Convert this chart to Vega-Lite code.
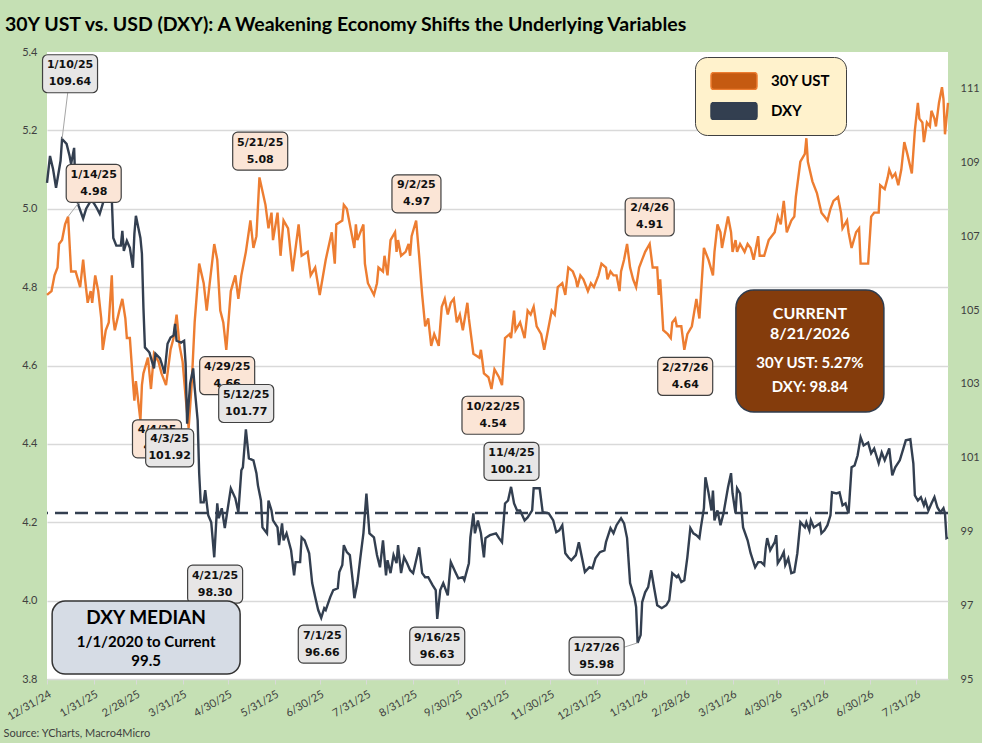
{
  "$schema": "https://vega.github.io/schema/vega-lite/v6.json",
  "autosize": "none",
  "width": 901,
  "height": 627,
  "padding": {"left": 47, "top": 52, "right": 34, "bottom": 64},
  "background": "#C5E0B4",
  "title": {
    "text": "30Y UST vs. USD (DXY): A Weakening Economy Shifts the Underlying Variables",
    "anchor": "start", "frame": "group", "dx": -42, "offset": -4, "baseline": "alphabetic",
    "font": "Lato", "fontSize": 19.5, "fontWeight": "bold", "color": "#000000"
  },
  "config": {
    "view": {"stroke": null, "fill": "white"},
    "font": "Lato",
    "axis": {"labelFont": "Lato", "labelFontSize": 11, "labelColor": "#404040"}
  },
  "datasets": {
    "ust": [
      {"date":"2024-12-31","ust":4.78},{"date":"2025-01-03","ust":4.79},{"date":"2025-01-05","ust":4.83},{"date":"2025-01-07","ust":4.85},
      {"date":"2025-01-08","ust":4.91},{"date":"2025-01-10","ust":4.92},{"date":"2025-01-12","ust":4.96},{"date":"2025-01-13","ust":4.97},
      {"date":"2025-01-14","ust":4.98},{"date":"2025-01-16","ust":4.84},{"date":"2025-01-19","ust":4.84},{"date":"2025-01-22","ust":4.80},
      {"date":"2025-01-24","ust":4.87},{"date":"2025-01-25","ust":4.83},{"date":"2025-01-27","ust":4.76},{"date":"2025-01-29","ust":4.79},
      {"date":"2025-01-30","ust":4.76},{"date":"2025-02-01","ust":4.83},{"date":"2025-02-03","ust":4.79},{"date":"2025-02-05","ust":4.72},
      {"date":"2025-02-06","ust":4.64},{"date":"2025-02-08","ust":4.69},{"date":"2025-02-10","ust":4.71},{"date":"2025-02-12","ust":4.83},
      {"date":"2025-02-13","ust":4.72},{"date":"2025-02-14","ust":4.69},{"date":"2025-02-17","ust":4.74},{"date":"2025-02-19","ust":4.77},
      {"date":"2025-02-21","ust":4.72},{"date":"2025-02-22","ust":4.67},{"date":"2025-02-24","ust":4.67},{"date":"2025-02-26","ust":4.56},
      {"date":"2025-02-27","ust":4.51},{"date":"2025-02-28","ust":4.56},{"date":"2025-03-03","ust":4.46},{"date":"2025-03-04","ust":4.55},
      {"date":"2025-03-05","ust":4.58},{"date":"2025-03-08","ust":4.62},{"date":"2025-03-10","ust":4.54},{"date":"2025-03-12","ust":4.63},
      {"date":"2025-03-15","ust":4.61},{"date":"2025-03-17","ust":4.58},{"date":"2025-03-20","ust":4.55},{"date":"2025-03-23","ust":4.64},
      {"date":"2025-03-25","ust":4.67},{"date":"2025-03-27","ust":4.73},{"date":"2025-03-29","ust":4.65},{"date":"2025-03-31","ust":4.61},
      {"date":"2025-04-02","ust":4.52},{"date":"2025-04-04","ust":4.44},{"date":"2025-04-06","ust":4.55},{"date":"2025-04-08","ust":4.71},
      {"date":"2025-04-11","ust":4.86},{"date":"2025-04-14","ust":4.81},{"date":"2025-04-16","ust":4.74},{"date":"2025-04-18","ust":4.81},
      {"date":"2025-04-21","ust":4.91},{"date":"2025-04-23","ust":4.87},{"date":"2025-04-25","ust":4.74},{"date":"2025-04-27","ust":4.71},
      {"date":"2025-04-29","ust":4.64},{"date":"2025-05-02","ust":4.79},{"date":"2025-05-05","ust":4.83},{"date":"2025-05-07","ust":4.77},
      {"date":"2025-05-09","ust":4.83},{"date":"2025-05-12","ust":4.89},{"date":"2025-05-15","ust":4.97},{"date":"2025-05-17","ust":4.90},
      {"date":"2025-05-19","ust":4.93},{"date":"2025-05-21","ust":5.08},{"date":"2025-05-25","ust":5.01},{"date":"2025-05-27","ust":4.95},
      {"date":"2025-05-29","ust":4.99},{"date":"2025-05-30","ust":4.92},{"date":"2025-06-02","ust":4.99},{"date":"2025-06-04","ust":4.88},
      {"date":"2025-06-06","ust":4.97},{"date":"2025-06-09","ust":4.95},{"date":"2025-06-12","ust":4.84},{"date":"2025-06-16","ust":4.96},
      {"date":"2025-06-18","ust":4.88},{"date":"2025-06-22","ust":4.89},{"date":"2025-06-24","ust":4.83},{"date":"2025-06-27","ust":4.85},
      {"date":"2025-06-30","ust":4.78},{"date":"2025-07-04","ust":4.87},{"date":"2025-07-08","ust":4.94},{"date":"2025-07-10","ust":4.86},
      {"date":"2025-07-11","ust":4.96},{"date":"2025-07-15","ust":4.97},{"date":"2025-07-16","ust":5.01},{"date":"2025-07-18","ust":5.00},
      {"date":"2025-07-20","ust":4.96},{"date":"2025-07-23","ust":4.90},{"date":"2025-07-24","ust":4.96},{"date":"2025-07-25","ust":4.92},
      {"date":"2025-07-29","ust":4.96},{"date":"2025-07-30","ust":4.86},{"date":"2025-08-01","ust":4.81},{"date":"2025-08-05","ust":4.78},
      {"date":"2025-08-07","ust":4.81},{"date":"2025-08-08","ust":4.85},{"date":"2025-08-11","ust":4.84},{"date":"2025-08-12","ust":4.88},
      {"date":"2025-08-14","ust":4.83},{"date":"2025-08-16","ust":4.92},{"date":"2025-08-19","ust":4.94},{"date":"2025-08-20","ust":4.89},
      {"date":"2025-08-21","ust":4.92},{"date":"2025-08-23","ust":4.88},{"date":"2025-08-26","ust":4.89},{"date":"2025-08-28","ust":4.91},
      {"date":"2025-08-29","ust":4.88},{"date":"2025-08-30","ust":4.93},{"date":"2025-09-02","ust":4.97},{"date":"2025-09-04","ust":4.88},
      {"date":"2025-09-06","ust":4.78},{"date":"2025-09-08","ust":4.70},{"date":"2025-09-10","ust":4.72},{"date":"2025-09-12","ust":4.65},
      {"date":"2025-09-14","ust":4.68},{"date":"2025-09-17","ust":4.65},{"date":"2025-09-19","ust":4.75},{"date":"2025-09-21","ust":4.77},
      {"date":"2025-09-23","ust":4.73},{"date":"2025-09-25","ust":4.76},{"date":"2025-09-27","ust":4.77},{"date":"2025-09-29","ust":4.71},
      {"date":"2025-10-01","ust":4.73},{"date":"2025-10-03","ust":4.69},{"date":"2025-10-06","ust":4.76},{"date":"2025-10-07","ust":4.72},
      {"date":"2025-10-10","ust":4.63},{"date":"2025-10-14","ust":4.62},{"date":"2025-10-15","ust":4.64},{"date":"2025-10-17","ust":4.58},
      {"date":"2025-10-20","ust":4.57},{"date":"2025-10-22","ust":4.54},{"date":"2025-10-24","ust":4.59},{"date":"2025-10-27","ust":4.57},
      {"date":"2025-10-29","ust":4.55},{"date":"2025-10-31","ust":4.67},{"date":"2025-11-03","ust":4.68},{"date":"2025-11-04","ust":4.67},
      {"date":"2025-11-06","ust":4.74},{"date":"2025-11-07","ust":4.69},{"date":"2025-11-10","ust":4.71},{"date":"2025-11-13","ust":4.67},
      {"date":"2025-11-15","ust":4.74},{"date":"2025-11-17","ust":4.73},{"date":"2025-11-19","ust":4.75},{"date":"2025-11-21","ust":4.70},
      {"date":"2025-11-24","ust":4.68},{"date":"2025-11-26","ust":4.64},{"date":"2025-11-28","ust":4.68},{"date":"2025-12-01","ust":4.74},
      {"date":"2025-12-03","ust":4.73},{"date":"2025-12-05","ust":4.80},{"date":"2025-12-08","ust":4.81},{"date":"2025-12-10","ust":4.78},
      {"date":"2025-12-12","ust":4.85},{"date":"2025-12-15","ust":4.84},{"date":"2025-12-17","ust":4.82},{"date":"2025-12-18","ust":4.80},
      {"date":"2025-12-20","ust":4.83},{"date":"2025-12-22","ust":4.82},{"date":"2025-12-25","ust":4.79},{"date":"2025-12-27","ust":4.81},
      {"date":"2025-12-29","ust":4.80},{"date":"2026-01-01","ust":4.83},{"date":"2026-01-03","ust":4.86},{"date":"2026-01-06","ust":4.85},
      {"date":"2026-01-07","ust":4.82},{"date":"2026-01-09","ust":4.84},{"date":"2026-01-11","ust":4.83},{"date":"2026-01-13","ust":4.83},
      {"date":"2026-01-15","ust":4.79},{"date":"2026-01-16","ust":4.84},{"date":"2026-01-18","ust":4.87},{"date":"2026-01-20","ust":4.91},
      {"date":"2026-01-22","ust":4.85},{"date":"2026-01-24","ust":4.82},{"date":"2026-01-26","ust":4.80},{"date":"2026-01-28","ust":4.85},
      {"date":"2026-01-30","ust":4.87},{"date":"2026-02-01","ust":4.89},{"date":"2026-02-04","ust":4.91},{"date":"2026-02-06","ust":4.85},
      {"date":"2026-02-09","ust":4.85},{"date":"2026-02-10","ust":4.78},{"date":"2026-02-11","ust":4.82},{"date":"2026-02-13","ust":4.69},
      {"date":"2026-02-16","ust":4.68},{"date":"2026-02-18","ust":4.67},{"date":"2026-02-19","ust":4.71},{"date":"2026-02-21","ust":4.72},
      {"date":"2026-02-22","ust":4.70},{"date":"2026-02-25","ust":4.70},{"date":"2026-02-27","ust":4.64},{"date":"2026-03-01","ust":4.68},
      {"date":"2026-03-04","ust":4.70},{"date":"2026-03-07","ust":4.77},{"date":"2026-03-09","ust":4.72},{"date":"2026-03-12","ust":4.90},
      {"date":"2026-03-15","ust":4.87},{"date":"2026-03-18","ust":4.83},{"date":"2026-03-19","ust":4.89},{"date":"2026-03-21","ust":4.96},
      {"date":"2026-03-23","ust":4.94},{"date":"2026-03-24","ust":4.90},{"date":"2026-03-28","ust":4.98},{"date":"2026-03-30","ust":4.94},
      {"date":"2026-03-31","ust":4.89},{"date":"2026-04-02","ust":4.92},{"date":"2026-04-03","ust":4.89},{"date":"2026-04-05","ust":4.91},
      {"date":"2026-04-08","ust":4.89},{"date":"2026-04-10","ust":4.91},{"date":"2026-04-12","ust":4.90},{"date":"2026-04-14","ust":4.87},
      {"date":"2026-04-17","ust":4.93},{"date":"2026-04-18","ust":4.88},{"date":"2026-04-21","ust":4.88},{"date":"2026-04-24","ust":4.92},
      {"date":"2026-04-28","ust":4.94},{"date":"2026-04-30","ust":4.98},{"date":"2026-05-02","ust":4.96},{"date":"2026-05-04","ust":5.02},
      {"date":"2026-05-06","ust":4.94},{"date":"2026-05-09","ust":4.97},{"date":"2026-05-11","ust":4.98},{"date":"2026-05-12","ust":5.03},
      {"date":"2026-05-15","ust":5.12},{"date":"2026-05-18","ust":5.14},{"date":"2026-05-19","ust":5.18},{"date":"2026-05-20","ust":5.12},
      {"date":"2026-05-23","ust":5.07},{"date":"2026-05-26","ust":5.04},{"date":"2026-05-29","ust":4.99},{"date":"2026-05-31","ust":4.98},
      {"date":"2026-06-02","ust":4.97},{"date":"2026-06-04","ust":5.00},{"date":"2026-06-06","ust":5.02},{"date":"2026-06-09","ust":5.03},
      {"date":"2026-06-11","ust":4.99},{"date":"2026-06-12","ust":4.95},{"date":"2026-06-15","ust":4.97},{"date":"2026-06-16","ust":4.94},
      {"date":"2026-06-18","ust":4.90},{"date":"2026-06-21","ust":4.94},{"date":"2026-06-23","ust":4.95},{"date":"2026-06-24","ust":4.86},
      {"date":"2026-06-26","ust":4.86},{"date":"2026-06-29","ust":4.86},{"date":"2026-07-01","ust":4.98},{"date":"2026-07-03","ust":4.99},
      {"date":"2026-07-06","ust":4.99},{"date":"2026-07-07","ust":5.06},{"date":"2026-07-10","ust":5.05},{"date":"2026-07-12","ust":5.08},
      {"date":"2026-07-13","ust":5.10},{"date":"2026-07-15","ust":5.08},{"date":"2026-07-17","ust":5.09},{"date":"2026-07-19","ust":5.06},
      {"date":"2026-07-21","ust":5.10},{"date":"2026-07-23","ust":5.17},{"date":"2026-07-25","ust":5.14},{"date":"2026-07-28","ust":5.09},
      {"date":"2026-07-30","ust":5.20},{"date":"2026-08-01","ust":5.27},{"date":"2026-08-02","ust":5.23},{"date":"2026-08-04","ust":5.22},
      {"date":"2026-08-05","ust":5.17},{"date":"2026-08-07","ust":5.22},{"date":"2026-08-09","ust":5.21},{"date":"2026-08-10","ust":5.25},
      {"date":"2026-08-12","ust":5.23},{"date":"2026-08-13","ust":5.21},{"date":"2026-08-15","ust":5.27},{"date":"2026-08-17","ust":5.31},
      {"date":"2026-08-18","ust":5.28},{"date":"2026-08-19","ust":5.19},{"date":"2026-08-21","ust":5.27}
    ],
    "dxy": [
      {"date":"2024-12-31","dxy":108.45},{"date":"2025-01-02","dxy":109.18},{"date":"2025-01-04","dxy":108.83},{"date":"2025-01-06","dxy":108.32},
      {"date":"2025-01-09","dxy":109.05},{"date":"2025-01-10","dxy":109.64},{"date":"2025-01-13","dxy":109.51},{"date":"2025-01-15","dxy":109.18},
      {"date":"2025-01-16","dxy":108.96},{"date":"2025-01-18","dxy":109.40},{"date":"2025-01-19","dxy":108.18},{"date":"2025-01-21","dxy":107.83},
      {"date":"2025-01-24","dxy":107.48},{"date":"2025-01-26","dxy":107.75},{"date":"2025-01-29","dxy":107.96},{"date":"2025-01-31","dxy":107.91},
      {"date":"2025-02-02","dxy":107.77},{"date":"2025-02-04","dxy":107.61},{"date":"2025-02-06","dxy":107.88},{"date":"2025-02-08","dxy":108.18},
      {"date":"2025-02-10","dxy":108.02},{"date":"2025-02-12","dxy":108.02},{"date":"2025-02-13","dxy":106.96},{"date":"2025-02-15","dxy":106.75},
      {"date":"2025-02-18","dxy":106.75},{"date":"2025-02-19","dxy":107.15},{"date":"2025-02-20","dxy":106.61},{"date":"2025-02-22","dxy":106.88},
      {"date":"2025-02-24","dxy":106.69},{"date":"2025-02-26","dxy":106.15},{"date":"2025-02-27","dxy":107.07},{"date":"2025-02-28","dxy":107.56},
      {"date":"2025-03-03","dxy":106.96},{"date":"2025-03-04","dxy":106.53},{"date":"2025-03-05","dxy":105.07},{"date":"2025-03-06","dxy":103.99},
      {"date":"2025-03-08","dxy":103.90},{"date":"2025-03-09","dxy":103.85},{"date":"2025-03-12","dxy":103.42},{"date":"2025-03-13","dxy":103.82},
      {"date":"2025-03-16","dxy":103.69},{"date":"2025-03-18","dxy":103.44},{"date":"2025-03-19","dxy":103.28},{"date":"2025-03-21","dxy":104.09},
      {"date":"2025-03-23","dxy":104.26},{"date":"2025-03-25","dxy":104.31},{"date":"2025-03-26","dxy":104.63},{"date":"2025-03-27","dxy":104.17},
      {"date":"2025-03-30","dxy":104.12},{"date":"2025-04-01","dxy":104.17},{"date":"2025-04-02","dxy":103.55},{"date":"2025-04-03","dxy":101.92},
      {"date":"2025-04-05","dxy":103.01},{"date":"2025-04-07","dxy":103.42},{"date":"2025-04-08","dxy":102.90},{"date":"2025-04-10","dxy":102.01},
      {"date":"2025-04-11","dxy":100.58},{"date":"2025-04-12","dxy":99.79},{"date":"2025-04-14","dxy":99.79},{"date":"2025-04-15","dxy":100.12},
      {"date":"2025-04-17","dxy":99.44},{"date":"2025-04-19","dxy":99.25},{"date":"2025-04-21","dxy":98.30},{"date":"2025-04-23","dxy":99.76},
      {"date":"2025-04-24","dxy":99.36},{"date":"2025-04-26","dxy":99.63},{"date":"2025-04-28","dxy":99.09},{"date":"2025-05-02","dxy":100.17},
      {"date":"2025-05-05","dxy":99.90},{"date":"2025-05-07","dxy":99.52},{"date":"2025-05-09","dxy":100.66},{"date":"2025-05-10","dxy":100.74},
      {"date":"2025-05-12","dxy":101.77},{"date":"2025-05-14","dxy":100.98},{"date":"2025-05-17","dxy":100.93},{"date":"2025-05-19","dxy":100.58},
      {"date":"2025-05-20","dxy":100.25},{"date":"2025-05-22","dxy":99.84},{"date":"2025-05-23","dxy":99.11},{"date":"2025-05-26","dxy":98.95},
      {"date":"2025-05-27","dxy":99.84},{"date":"2025-05-29","dxy":99.57},{"date":"2025-05-30","dxy":99.30},{"date":"2025-06-02","dxy":99.11},
      {"date":"2025-06-03","dxy":98.63},{"date":"2025-06-05","dxy":99.22},{"date":"2025-06-06","dxy":98.76},{"date":"2025-06-08","dxy":98.95},
      {"date":"2025-06-11","dxy":98.49},{"date":"2025-06-13","dxy":97.81},{"date":"2025-06-14","dxy":98.17},{"date":"2025-06-17","dxy":98.17},
      {"date":"2025-06-18","dxy":98.84},{"date":"2025-06-20","dxy":98.76},{"date":"2025-06-23","dxy":98.41},{"date":"2025-06-25","dxy":97.60},
      {"date":"2025-06-27","dxy":97.22},{"date":"2025-06-29","dxy":96.87},{"date":"2025-07-01","dxy":96.66},{"date":"2025-07-03","dxy":96.92},
      {"date":"2025-07-04","dxy":96.87},{"date":"2025-07-07","dxy":97.22},{"date":"2025-07-09","dxy":97.41},{"date":"2025-07-12","dxy":97.46},
      {"date":"2025-07-13","dxy":97.90},{"date":"2025-07-15","dxy":98.09},{"date":"2025-07-16","dxy":98.63},{"date":"2025-07-18","dxy":98.44},
      {"date":"2025-07-20","dxy":98.36},{"date":"2025-07-22","dxy":97.63},{"date":"2025-07-23","dxy":97.19},{"date":"2025-07-25","dxy":97.60},
      {"date":"2025-07-27","dxy":98.30},{"date":"2025-07-29","dxy":98.95},{"date":"2025-07-31","dxy":100.03},{"date":"2025-08-02","dxy":98.95},
      {"date":"2025-08-05","dxy":98.84},{"date":"2025-08-07","dxy":98.36},{"date":"2025-08-09","dxy":98.03},{"date":"2025-08-11","dxy":98.76},
      {"date":"2025-08-13","dxy":97.81},{"date":"2025-08-14","dxy":98.22},{"date":"2025-08-16","dxy":97.87},{"date":"2025-08-18","dxy":98.36},
      {"date":"2025-08-20","dxy":98.14},{"date":"2025-08-21","dxy":98.63},{"date":"2025-08-23","dxy":97.87},{"date":"2025-08-25","dxy":98.30},
      {"date":"2025-08-27","dxy":98.14},{"date":"2025-08-29","dxy":97.95},{"date":"2025-08-31","dxy":97.87},{"date":"2025-09-04","dxy":98.57},
      {"date":"2025-09-06","dxy":97.87},{"date":"2025-09-08","dxy":97.76},{"date":"2025-09-10","dxy":97.76},{"date":"2025-09-13","dxy":97.54},
      {"date":"2025-09-15","dxy":97.41},{"date":"2025-09-16","dxy":96.63},{"date":"2025-09-18","dxy":97.41},{"date":"2025-09-20","dxy":97.60},
      {"date":"2025-09-23","dxy":97.27},{"date":"2025-09-25","dxy":98.17},{"date":"2025-09-28","dxy":97.90},{"date":"2025-09-30","dxy":97.73},
      {"date":"2025-10-03","dxy":97.76},{"date":"2025-10-04","dxy":97.68},{"date":"2025-10-07","dxy":98.14},{"date":"2025-10-08","dxy":98.84},
      {"date":"2025-10-10","dxy":99.49},{"date":"2025-10-11","dxy":98.95},{"date":"2025-10-13","dxy":99.30},{"date":"2025-10-15","dxy":98.95},
      {"date":"2025-10-17","dxy":98.30},{"date":"2025-10-18","dxy":98.82},{"date":"2025-10-21","dxy":98.90},{"date":"2025-10-25","dxy":98.95},
      {"date":"2025-10-27","dxy":98.82},{"date":"2025-10-29","dxy":98.71},{"date":"2025-10-31","dxy":99.76},{"date":"2025-11-02","dxy":99.84},
      {"date":"2025-11-04","dxy":100.21},{"date":"2025-11-06","dxy":99.76},{"date":"2025-11-08","dxy":99.57},{"date":"2025-11-10","dxy":99.57},
      {"date":"2025-11-13","dxy":99.30},{"date":"2025-11-15","dxy":99.38},{"date":"2025-11-18","dxy":99.57},{"date":"2025-11-19","dxy":100.17},
      {"date":"2025-11-23","dxy":100.17},{"date":"2025-11-25","dxy":99.52},{"date":"2025-11-29","dxy":99.49},{"date":"2025-12-02","dxy":99.30},
      {"date":"2025-12-04","dxy":98.98},{"date":"2025-12-06","dxy":99.03},{"date":"2025-12-08","dxy":99.17},{"date":"2025-12-10","dxy":98.41},
      {"date":"2025-12-12","dxy":98.30},{"date":"2025-12-14","dxy":98.22},{"date":"2025-12-17","dxy":98.36},{"date":"2025-12-19","dxy":98.71},
      {"date":"2025-12-21","dxy":98.30},{"date":"2025-12-23","dxy":97.90},{"date":"2025-12-26","dxy":98.03},{"date":"2025-12-28","dxy":98.00},
      {"date":"2025-12-30","dxy":98.27},{"date":"2026-01-02","dxy":98.44},{"date":"2026-01-05","dxy":98.49},{"date":"2026-01-06","dxy":98.71},
      {"date":"2026-01-09","dxy":99.09},{"date":"2026-01-11","dxy":98.95},{"date":"2026-01-13","dxy":99.17},{"date":"2026-01-16","dxy":99.36},
      {"date":"2026-01-18","dxy":99.22},{"date":"2026-01-20","dxy":98.82},{"date":"2026-01-22","dxy":97.60},{"date":"2026-01-25","dxy":97.19},
      {"date":"2026-01-26","dxy":96.95},{"date":"2026-01-27","dxy":95.98},{"date":"2026-01-29","dxy":96.19},{"date":"2026-01-30","dxy":97.08},
      {"date":"2026-02-01","dxy":97.35},{"date":"2026-02-03","dxy":97.49},{"date":"2026-02-05","dxy":97.95},{"date":"2026-02-07","dxy":97.46},
      {"date":"2026-02-09","dxy":97.00},{"date":"2026-02-12","dxy":96.92},{"date":"2026-02-15","dxy":97.00},{"date":"2026-02-17","dxy":97.14},
      {"date":"2026-02-19","dxy":97.87},{"date":"2026-02-22","dxy":97.76},{"date":"2026-02-23","dxy":97.81},{"date":"2026-02-25","dxy":97.63},
      {"date":"2026-02-27","dxy":97.68},{"date":"2026-03-01","dxy":98.30},{"date":"2026-03-03","dxy":99.09},{"date":"2026-03-05","dxy":98.95},
      {"date":"2026-03-07","dxy":98.90},{"date":"2026-03-09","dxy":98.82},{"date":"2026-03-10","dxy":99.11},{"date":"2026-03-12","dxy":99.63},
      {"date":"2026-03-13","dxy":100.47},{"date":"2026-03-15","dxy":100.06},{"date":"2026-03-17","dxy":99.57},{"date":"2026-03-18","dxy":100.11},
      {"date":"2026-03-19","dxy":99.30},{"date":"2026-03-21","dxy":99.57},{"date":"2026-03-23","dxy":99.17},{"date":"2026-03-25","dxy":99.49},
      {"date":"2026-03-28","dxy":100.20},{"date":"2026-03-30","dxy":100.58},{"date":"2026-03-31","dxy":100.03},{"date":"2026-04-02","dxy":99.49},
      {"date":"2026-04-03","dxy":100.17},{"date":"2026-04-05","dxy":100.03},{"date":"2026-04-07","dxy":99.11},{"date":"2026-04-10","dxy":98.76},
      {"date":"2026-04-12","dxy":98.41},{"date":"2026-04-15","dxy":98.03},{"date":"2026-04-17","dxy":98.17},{"date":"2026-04-19","dxy":98.17},
      {"date":"2026-04-21","dxy":98.09},{"date":"2026-04-22","dxy":98.54},{"date":"2026-04-23","dxy":98.82},{"date":"2026-04-25","dxy":98.49},
      {"date":"2026-04-28","dxy":98.71},{"date":"2026-04-29","dxy":98.90},{"date":"2026-04-30","dxy":98.14},{"date":"2026-05-02","dxy":98.27},
      {"date":"2026-05-04","dxy":98.44},{"date":"2026-05-05","dxy":98.09},{"date":"2026-05-07","dxy":98.27},{"date":"2026-05-09","dxy":97.87},
      {"date":"2026-05-11","dxy":97.90},{"date":"2026-05-13","dxy":98.41},{"date":"2026-05-15","dxy":99.25},{"date":"2026-05-18","dxy":99.11},
      {"date":"2026-05-19","dxy":99.25},{"date":"2026-05-21","dxy":99.03},{"date":"2026-05-22","dxy":99.30},{"date":"2026-05-24","dxy":99.11},
      {"date":"2026-05-28","dxy":99.22},{"date":"2026-05-29","dxy":98.95},{"date":"2026-05-31","dxy":99.03},{"date":"2026-06-02","dxy":99.17},
      {"date":"2026-06-04","dxy":99.44},{"date":"2026-06-05","dxy":100.06},{"date":"2026-06-08","dxy":100.03},{"date":"2026-06-10","dxy":100.06},
      {"date":"2026-06-12","dxy":99.71},{"date":"2026-06-14","dxy":99.76},{"date":"2026-06-16","dxy":99.49},{"date":"2026-06-18","dxy":100.74},
      {"date":"2026-06-20","dxy":100.79},{"date":"2026-06-22","dxy":101.06},{"date":"2026-06-24","dxy":101.55},{"date":"2026-06-26","dxy":101.33},
      {"date":"2026-06-29","dxy":101.41},{"date":"2026-07-01","dxy":101.12},{"date":"2026-07-03","dxy":101.25},{"date":"2026-07-06","dxy":100.85},
      {"date":"2026-07-08","dxy":101.14},{"date":"2026-07-10","dxy":100.93},{"date":"2026-07-13","dxy":101.25},{"date":"2026-07-15","dxy":100.52},
      {"date":"2026-07-17","dxy":100.74},{"date":"2026-07-20","dxy":100.93},{"date":"2026-07-22","dxy":101.20},{"date":"2026-07-24","dxy":101.47},
      {"date":"2026-07-27","dxy":101.50},{"date":"2026-07-29","dxy":100.85},{"date":"2026-07-30","dxy":99.98},{"date":"2026-08-01","dxy":99.84},
      {"date":"2026-08-03","dxy":99.93},{"date":"2026-08-05","dxy":99.71},{"date":"2026-08-06","dxy":99.84},{"date":"2026-08-08","dxy":99.57},
      {"date":"2026-08-10","dxy":99.76},{"date":"2026-08-12","dxy":99.93},{"date":"2026-08-14","dxy":99.65},{"date":"2026-08-16","dxy":99.52},
      {"date":"2026-08-18","dxy":99.63},{"date":"2026-08-19","dxy":99.49},{"date":"2026-08-20","dxy":98.82},{"date":"2026-08-21","dxy":98.84}
    ],
    "median": [{"median": 99.5}],
    "notesUst": [
      {"lines": ["4/4/25", "4.41"], "date": "2025-03-14T00:00", "y": 4.413},
      {"lines": ["1/14/25", "4.98"], "date": "2025-01-31T00:00", "y": 5.065, "pointDate": "2025-01-14", "pointY": 4.98},
      {"lines": ["5/21/25", "5.08"], "date": "2025-05-21T12:00", "y": 5.147},
      {"lines": ["9/2/25", "4.97"], "date": "2025-09-02T05:00", "y": 5.038},
      {"lines": ["4/29/25", "4.66"], "date": "2025-04-29T14:00", "y": 4.574},
      {"lines": ["10/22/25", "4.54"], "date": "2025-10-23T00:00", "y": 4.473},
      {"lines": ["2/4/26", "4.91"], "date": "2026-02-04T00:00", "y": 4.979},
      {"lines": ["2/27/26", "4.64"], "date": "2026-02-27T14:00", "y": 4.572}
    ],
    "notesDxy": [
      {"lines": ["1/10/25", "109.64"], "date": "2025-01-15T07:00", "y": 111.41, "pointDate": "2025-01-10", "pointY": 109.64},
      {"lines": ["4/21/25", "98.30"], "date": "2025-04-21T14:00", "y": 97.571},
      {"lines": ["7/1/25", "96.66"], "date": "2025-07-01T17:00", "y": 95.947},
      {"lines": ["9/16/25", "96.63"], "date": "2025-09-16T00:00", "y": 95.893},
      {"lines": ["11/4/25", "100.21"], "date": "2025-11-04T07:00", "y": 100.9},
      {"lines": ["1/27/26", "95.98"], "date": "2025-12-30T19:00", "y": 95.622, "pointDate": "2026-01-27", "pointY": 95.98},
      {"lines": ["4/3/25", "101.92"], "date": "2025-03-22T10:00", "y": 101.265},
      {"lines": ["5/12/25", "101.77"], "date": "2025-05-12T05:00", "y": 102.47}
    ],
    "current": [
      {"date": "2026-05-21T08:00", "y": 4.637, "head": ["CURRENT", "8/21/2026"], "body": ["30Y UST:  5.27%", "DXY:  98.84"]}
    ],
    "medianBox": [
      {"date": "2025-03-06T19:00", "y": 96.123, "head": "DXY MEDIAN", "body": ["1/1/2020 to Current", "99.5"]}
    ]
  },
  "layer": [
    {
      "data": {"name": "ust"},
      "mark": {"type": "line", "strokeWidth": 2.4},
      "encoding": {
        "x": {
          "field": "date", "type": "temporal",
          "scale": {"domain": [{"year": 2024, "month": 12, "date": 31}, {"year": 2026, "month": 8, "date": 21}], "nice": false},
          "axis": {
            "values": [
              {"year": 2024, "month": 12, "date": 31}, {"year": 2025, "month": 1, "date": 31}, {"year": 2025, "month": 2, "date": 28},
              {"year": 2025, "month": 3, "date": 31}, {"year": 2025, "month": 4, "date": 30}, {"year": 2025, "month": 5, "date": 31},
              {"year": 2025, "month": 6, "date": 30}, {"year": 2025, "month": 7, "date": 31}, {"year": 2025, "month": 8, "date": 31},
              {"year": 2025, "month": 9, "date": 30}, {"year": 2025, "month": 10, "date": 31}, {"year": 2025, "month": 11, "date": 30},
              {"year": 2025, "month": 12, "date": 31}, {"year": 2026, "month": 1, "date": 31}, {"year": 2026, "month": 2, "date": 28},
              {"year": 2026, "month": 3, "date": 31}, {"year": 2026, "month": 4, "date": 30}, {"year": 2026, "month": 5, "date": 31},
              {"year": 2026, "month": 6, "date": 30}, {"year": 2026, "month": 7, "date": 31}
            ],
            "format": "%-m/%-d/%y", "labelAngle": -30, "labelOverlap": false, "labelPadding": 4,
            "domainColor": "#D9D9D9", "tickColor": "#D9D9D9", "tickSize": 5, "grid": false,
            "title": "Source: YCharts, Macro4Micro", "titleX": -44, "titleY": 54, "titleAlign": "left",
            "titleAngle": 0, "titleBaseline": "middle", "titleFontWeight": "normal", "titleFontSize": 11,
            "titleColor": "#404040", "titleFont": "Lato"
          }
        },
        "y": {
          "field": "ust", "type": "quantitative",
          "scale": {"domain": [3.8, 5.4], "nice": false, "zero": false},
          "axis": {
            "orient": "left", "values": [3.8, 4.0, 4.2, 4.4, 4.6, 4.8, 5.0, 5.2, 5.4], "format": ".1f",
            "grid": true, "gridColor": {"condition": {"test": "datum.value > 5.35", "value": "transparent"}, "value": "#D9D9D9"},
            "gridWidth": 1.3, "domain": false, "ticks": false, "labelPadding": 10, "title": null
          }
        },
        "color": {
          "datum": "30Y UST", "type": "nominal",
          "scale": {"domain": ["30Y UST", "DXY"], "range": ["#ED7D31", "#333F50"]},
          "legend": {
            "title": null, "orient": "none", "legendX": 648, "legendY": 5,
            "fillColor": "#FFF2CC", "strokeColor": "#404040", "cornerRadius": 12, "padding": 15,
            "symbolType": "M-0.87,-0.37L0.87,-0.37Q1,-0.37 1,-0.24L1,0.24Q1,0.37 0.87,0.37L-0.87,0.37Q-1,0.37 -1,0.24L-1,-0.24Q-1,-0.37 -0.87,-0.37Z",
            "symbolSize": 2116, "clipHeight": 18, "rowPadding": 12, "labelOffset": 13,
            "labelFont": "Lato", "labelFontSize": 15, "labelFontWeight": "bold", "labelColor": "#000000",
            "encode": {
              "symbols": {
                "update": {
                  "fill": [{"test": "datum.value === '30Y UST'", "value": "#C55A11"}, {"value": "#333F50"}],
                  "stroke": {"value": "#2F3B4C"}, "strokeWidth": {"value": 1.5}, "opacity": {"value": 1}
                }
              }
            }
          }
        }
      }
    },
    {
      "layer": [
        {
          "data": {"name": "dxy"},
          "mark": {"type": "line", "strokeWidth": 2.4},
          "encoding": {
            "x": {"field": "date", "type": "temporal", "scale": {"domain": [{"year": 2024, "month": 12, "date": 31}, {"year": 2026, "month": 8, "date": 21}], "nice": false}},
            "y": {
              "field": "dxy", "type": "quantitative",
              "scale": {"domain": [95, 112], "nice": false, "zero": false},
              "axis": {"orient": "right", "values": [95, 97, 99, 101, 103, 105, 107, 109, 111], "format": "d", "grid": false, "domain": false, "ticks": false, "labelPadding": 12, "title": null}
            },
            "color": {"datum": "DXY", "type": "nominal"}
          }
        },
        {
          "data": {"name": "median"},
          "mark": {"type": "rule", "color": "#333F50", "strokeWidth": 2.5, "strokeDash": [13, 7]},
          "encoding": {
            "y": {"field": "median", "type": "quantitative", "scale": {"domain": [95, 112], "nice": false, "zero": false}}
          }
        }
      ]
    },
    {
      "data": {"name": "notesUst"},
      "layer": [
        {
          "transform": [{"filter": "isValid(datum.pointDate)"}],
          "mark": {"type": "rule", "color": "#A6A6A6", "strokeWidth": 1},
          "encoding": {
            "x": {"field": "pointDate", "type": "temporal", "scale": {"domain": [{"year": 2024, "month": 12, "date": 31}, {"year": 2026, "month": 8, "date": 21}], "nice": false}},
            "x2": {"field": "date"},
            "y": {"field": "pointY", "type": "quantitative", "scale": {"domain": [3.8, 5.4], "nice": false, "zero": false}, "axis": null},
            "y2": {"field": "y"}
          }
        },
        {
          "transform": [{"filter": "length(datum.lines[0]) <= 6"}],
          "mark": {"type": "rect", "width": 49, "height": 38, "align": "center", "baseline": "middle", "cornerRadius": 5, "fill": "#FBE5D6", "stroke": "#404040", "strokeWidth": 1.2},
          "encoding": {
            "x": {"field": "date", "type": "temporal", "scale": {"domain": [{"year": 2024, "month": 12, "date": 31}, {"year": 2026, "month": 8, "date": 21}], "nice": false}},
            "y": {"field": "y", "type": "quantitative", "scale": {"domain": [3.8, 5.4], "nice": false, "zero": false}, "axis": null}
          }
        },
        {
          "transform": [{"filter": "length(datum.lines[0]) == 7"}],
          "mark": {"type": "rect", "width": 55, "height": 38, "align": "center", "baseline": "middle", "cornerRadius": 5, "fill": "#FBE5D6", "stroke": "#404040", "strokeWidth": 1.2},
          "encoding": {
            "x": {"field": "date", "type": "temporal", "scale": {"domain": [{"year": 2024, "month": 12, "date": 31}, {"year": 2026, "month": 8, "date": 21}], "nice": false}},
            "y": {"field": "y", "type": "quantitative", "scale": {"domain": [3.8, 5.4], "nice": false, "zero": false}, "axis": null}
          }
        },
        {
          "transform": [{"filter": "length(datum.lines[0]) >= 8"}],
          "mark": {"type": "rect", "width": 62, "height": 38, "align": "center", "baseline": "middle", "cornerRadius": 5, "fill": "#FBE5D6", "stroke": "#404040", "strokeWidth": 1.2},
          "encoding": {
            "x": {"field": "date", "type": "temporal", "scale": {"domain": [{"year": 2024, "month": 12, "date": 31}, {"year": 2026, "month": 8, "date": 21}], "nice": false}},
            "y": {"field": "y", "type": "quantitative", "scale": {"domain": [3.8, 5.4], "nice": false, "zero": false}, "axis": null}
          }
        },
        {
          "mark": {"type": "text", "align": "center", "baseline": "middle", "dy": -8.5, "lineHeight": 17, "font": "DejaVu Sans", "fontSize": 11, "fontWeight": "bold", "color": "#111111"},
          "encoding": {
            "x": {"field": "date", "type": "temporal", "scale": {"domain": [{"year": 2024, "month": 12, "date": 31}, {"year": 2026, "month": 8, "date": 21}], "nice": false}},
            "y": {"field": "y", "type": "quantitative", "scale": {"domain": [3.8, 5.4], "nice": false, "zero": false}, "axis": null},
            "text": {"field": "lines", "type": "nominal"}
          }
        },
        {
          "data": {"name": "current"},
          "mark": {"type": "rect", "width": 148, "height": 122, "align": "center", "baseline": "middle", "cornerRadius": 18, "fill": "#843C0C", "stroke": "#2F3B4C", "strokeWidth": 1.5},
          "encoding": {
            "x": {"field": "date", "type": "temporal", "scale": {"domain": [{"year": 2024, "month": 12, "date": 31}, {"year": 2026, "month": 8, "date": 21}], "nice": false}},
            "y": {"field": "y", "type": "quantitative", "scale": {"domain": [3.8, 5.4], "nice": false, "zero": false}, "axis": null}
          }
        },
        {
          "data": {"name": "current"},
          "mark": {"type": "text", "align": "center", "baseline": "middle", "dy": -37, "lineHeight": 20, "font": "Lato", "fontSize": 16, "fontWeight": "bold", "color": "white"},
          "encoding": {
            "x": {"field": "date", "type": "temporal", "scale": {"domain": [{"year": 2024, "month": 12, "date": 31}, {"year": 2026, "month": 8, "date": 21}], "nice": false}},
            "y": {"field": "y", "type": "quantitative", "scale": {"domain": [3.8, 5.4], "nice": false, "zero": false}, "axis": null},
            "text": {"field": "head", "type": "nominal"}
          }
        },
        {
          "data": {"name": "current"},
          "mark": {"type": "text", "align": "center", "baseline": "middle", "dy": 12, "lineHeight": 24, "font": "Lato", "fontSize": 15, "fontWeight": "bold", "color": "white"},
          "encoding": {
            "x": {"field": "date", "type": "temporal", "scale": {"domain": [{"year": 2024, "month": 12, "date": 31}, {"year": 2026, "month": 8, "date": 21}], "nice": false}},
            "y": {"field": "y", "type": "quantitative", "scale": {"domain": [3.8, 5.4], "nice": false, "zero": false}, "axis": null},
            "text": {"field": "body", "type": "nominal"}
          }
        }
      ]
    },
    {
      "data": {"name": "notesDxy"},
      "layer": [
        {
          "transform": [{"filter": "isValid(datum.pointDate)"}],
          "mark": {"type": "rule", "color": "#A6A6A6", "strokeWidth": 1},
          "encoding": {
            "x": {"field": "pointDate", "type": "temporal", "scale": {"domain": [{"year": 2024, "month": 12, "date": 31}, {"year": 2026, "month": 8, "date": 21}], "nice": false}},
            "x2": {"field": "date"},
            "y": {"field": "pointY", "type": "quantitative", "scale": {"domain": [95, 112], "nice": false, "zero": false}, "axis": null},
            "y2": {"field": "y"}
          }
        },
        {
          "transform": [{"filter": "length(datum.lines[0]) <= 6"}],
          "mark": {"type": "rect", "width": 48, "height": 38, "align": "center", "baseline": "middle", "cornerRadius": 5, "fill": "#E7E6E6", "stroke": "#404040", "strokeWidth": 1.2},
          "encoding": {
            "x": {"field": "date", "type": "temporal", "scale": {"domain": [{"year": 2024, "month": 12, "date": 31}, {"year": 2026, "month": 8, "date": 21}], "nice": false}},
            "y": {"field": "y", "type": "quantitative", "scale": {"domain": [95, 112], "nice": false, "zero": false}, "axis": null}
          }
        },
        {
          "transform": [{"filter": "length(datum.lines[0]) >= 7"}],
          "mark": {"type": "rect", "width": 55, "height": 38, "align": "center", "baseline": "middle", "cornerRadius": 5, "fill": "#E7E6E6", "stroke": "#404040", "strokeWidth": 1.2},
          "encoding": {
            "x": {"field": "date", "type": "temporal", "scale": {"domain": [{"year": 2024, "month": 12, "date": 31}, {"year": 2026, "month": 8, "date": 21}], "nice": false}},
            "y": {"field": "y", "type": "quantitative", "scale": {"domain": [95, 112], "nice": false, "zero": false}, "axis": null}
          }
        },
        {
          "mark": {"type": "text", "align": "center", "baseline": "middle", "dy": -8.5, "lineHeight": 17, "font": "DejaVu Sans", "fontSize": 11, "fontWeight": "bold", "color": "#111111"},
          "encoding": {
            "x": {"field": "date", "type": "temporal", "scale": {"domain": [{"year": 2024, "month": 12, "date": 31}, {"year": 2026, "month": 8, "date": 21}], "nice": false}},
            "y": {"field": "y", "type": "quantitative", "scale": {"domain": [95, 112], "nice": false, "zero": false}, "axis": null},
            "text": {"field": "lines", "type": "nominal"}
          }
        },
        {
          "data": {"name": "medianBox"},
          "mark": {"type": "rect", "width": 188, "height": 73, "align": "center", "baseline": "middle", "cornerRadius": 13, "fill": "#D6DCE5", "stroke": "#333333", "strokeWidth": 1.5},
          "encoding": {
            "x": {"field": "date", "type": "temporal", "scale": {"domain": [{"year": 2024, "month": 12, "date": 31}, {"year": 2026, "month": 8, "date": 21}], "nice": false}},
            "y": {"field": "y", "type": "quantitative", "scale": {"domain": [95, 112], "nice": false, "zero": false}, "axis": null}
          }
        },
        {
          "data": {"name": "medianBox"},
          "mark": {"type": "text", "align": "center", "baseline": "middle", "dy": -20, "font": "Lato", "fontSize": 19, "fontWeight": "bold", "color": "#000000"},
          "encoding": {
            "x": {"field": "date", "type": "temporal", "scale": {"domain": [{"year": 2024, "month": 12, "date": 31}, {"year": 2026, "month": 8, "date": 21}], "nice": false}},
            "y": {"field": "y", "type": "quantitative", "scale": {"domain": [95, 112], "nice": false, "zero": false}, "axis": null},
            "text": {"field": "head", "type": "nominal"}
          }
        },
        {
          "data": {"name": "medianBox"},
          "mark": {"type": "text", "align": "center", "baseline": "middle", "dy": 4.5, "lineHeight": 19, "font": "Lato", "fontSize": 15, "fontWeight": "bold", "color": "#000000"},
          "encoding": {
            "x": {"field": "date", "type": "temporal", "scale": {"domain": [{"year": 2024, "month": 12, "date": 31}, {"year": 2026, "month": 8, "date": 21}], "nice": false}},
            "y": {"field": "y", "type": "quantitative", "scale": {"domain": [95, 112], "nice": false, "zero": false}, "axis": null},
            "text": {"field": "body", "type": "nominal"}
          }
        }
      ]
    }
  ],
  "resolve": {"scale": {"y": "independent"}}
}
